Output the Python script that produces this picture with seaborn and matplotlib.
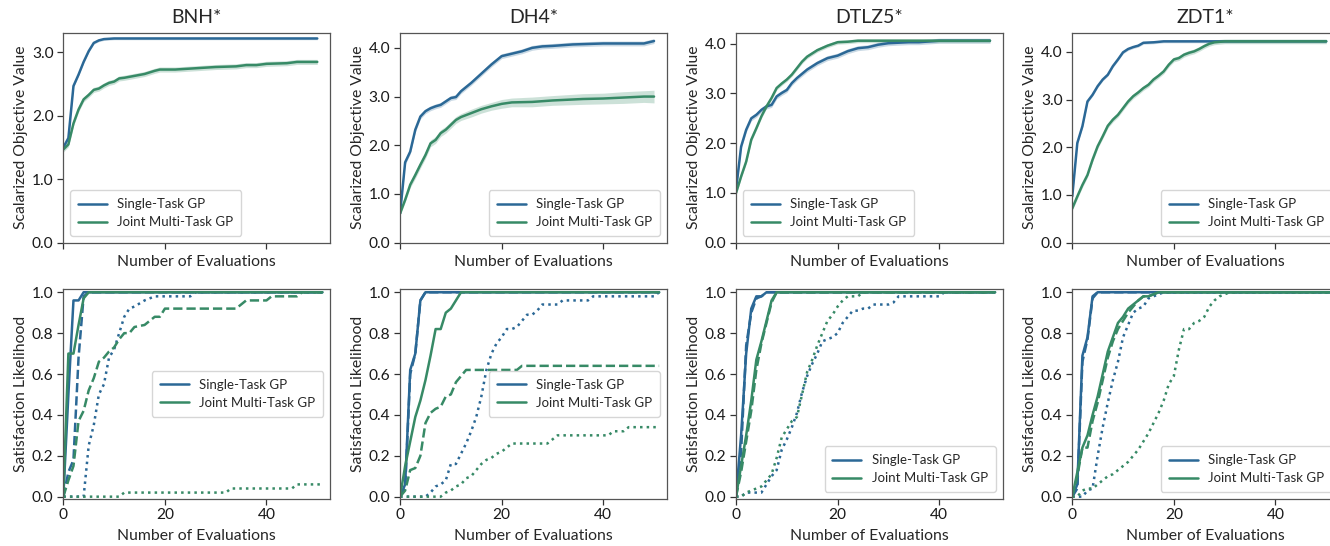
import numpy as np
import matplotlib
matplotlib.use("Agg")
import matplotlib.pyplot as plt
import seaborn as sns

# ---------------- data ----------------
titles = ["BNH*", "DH4*", "DTLZ5*", "ZDT1*"]
method_labels = ["Single-Task GP", "Joint Multi-Task GP"]
x_ticks = [0, 20, 40]

# Top row: scalarized objective value (mean) and band half-width
bnh_st_x = [0, 1, 2, 3, 4, 5, 6, 7, 8, 10, 50]
bnh_st_y = [1.50, 1.65, 2.47, 2.65, 2.85, 3.02, 3.15, 3.19, 3.21, 3.22, 3.22]
bnh_st_w = 0.02
bnh_mt_x = [0, 1, 2, 3, 4, 5, 6, 7, 8, 9, 10, 11, 12, 14, 16, 18, 19, 22, 26, 28, 30, 34, 36, 38, 40, 44, 46, 50]
bnh_mt_y = [1.47, 1.55, 1.88, 2.10, 2.26, 2.33, 2.41, 2.43, 2.48, 2.52, 2.54, 2.59, 2.60, 2.63, 2.66, 2.71, 2.73,
            2.73, 2.75, 2.76, 2.77, 2.78, 2.80, 2.80, 2.82, 2.83, 2.85, 2.85]
bnh_mt_w = 0.04

dh4_st_x = [0, 1, 2, 3, 4, 5, 6, 7, 8, 9, 10, 11, 12, 14, 16, 18, 20, 22, 24, 26, 28, 30, 34, 40, 48, 50]
dh4_st_y = [0.60, 1.65, 1.87, 2.32, 2.59, 2.70, 2.76, 2.80, 2.83, 2.90, 2.97, 2.99, 3.11, 3.28, 3.47, 3.66, 3.83,
            3.88, 3.93, 4.00, 4.03, 4.04, 4.07, 4.09, 4.09, 4.14]
dh4_st_w = 0.05
dh4_mt_x = [0, 1, 2, 3, 4, 5, 6, 7, 8, 9, 10, 11, 12, 14, 16, 18, 20, 22, 26, 30, 36, 40, 44, 48, 50]
dh4_mt_y = [0.60, 0.88, 1.19, 1.39, 1.60, 1.80, 2.04, 2.11, 2.25, 2.32, 2.42, 2.52, 2.58, 2.66, 2.74, 2.80, 2.85,
            2.88, 2.89, 2.92, 2.95, 2.96, 2.98, 3.00, 3.00]
dh4_mt_w = [0.04, 0.05, 0.06, 0.07, 0.07, 0.07, 0.07, 0.07, 0.07, 0.07, 0.07, 0.07, 0.07, 0.08, 0.08, 0.08, 0.09,
            0.09, 0.10, 0.10, 0.11, 0.11, 0.12, 0.12, 0.13]

dtlz5_st_x = [0, 1, 2, 3, 4, 5, 6, 7, 8, 9, 10, 11, 12, 14, 16, 18, 20, 22, 24, 26, 28, 30, 32, 34, 36, 40, 50]
dtlz5_st_y = [1.06, 1.93, 2.27, 2.50, 2.57, 2.67, 2.74, 2.77, 2.94, 3.01, 3.07, 3.21, 3.31, 3.48, 3.61, 3.71, 3.76,
              3.85, 3.91, 3.93, 3.98, 4.01, 4.02, 4.03, 4.03, 4.06, 4.06]
dtlz5_st_w = 0.05
dtlz5_mt_x = [0, 1, 2, 3, 4, 5, 6, 7, 8, 9, 10, 11, 12, 13, 14, 16, 18, 20, 22, 24, 50]
dtlz5_mt_y = [1.00, 1.33, 1.63, 2.07, 2.30, 2.54, 2.74, 2.91, 3.11, 3.20, 3.28, 3.38, 3.51, 3.64, 3.74, 3.87, 3.96,
              4.03, 4.04, 4.06, 4.06]
dtlz5_mt_w = 0.04

zdt1_st_x = [0, 1, 2, 3, 4, 5, 6, 7, 8, 9, 10, 11, 12, 13, 14, 16, 18, 50]
zdt1_st_y = [0.97, 2.09, 2.44, 2.96, 3.10, 3.28, 3.42, 3.52, 3.70, 3.84, 3.99, 4.06, 4.10, 4.13, 4.19, 4.20, 4.22, 4.22]
zdt1_st_w = 0.03
zdt1_mt_x = list(range(0, 29)) + [30, 50]
zdt1_mt_y = [0.72, 0.97, 1.21, 1.42, 1.74, 2.02, 2.23, 2.45, 2.58, 2.68, 2.82, 2.96, 3.07, 3.15, 3.24, 3.31, 3.42,
             3.50, 3.59, 3.73, 3.84, 3.87, 3.94, 3.98, 4.01, 4.06, 4.12, 4.17, 4.20, 4.22, 4.22]
zdt1_mt_w = 0.05

top_ylims = [3.31, 4.31, 4.22, 4.40]

# Bottom row: satisfaction likelihood, three constraint variants (solid, dashed, dotted)
bnh_st_solid_x = [0, 1, 2, 3, 4, 5, 51]
bnh_st_solid_y = [0, 0.50, 0.96, 0.96, 1.0, 1.0, 1.0]
bnh_st_dash_x = [0, 1, 2, 3, 4, 5, 51]
bnh_st_dash_y = [0, 0.12, 0.18, 0.68, 0.98, 1.0, 1.0]
bnh_st_dot_x = [0, 4, 5, 6, 7, 8, 9, 10, 11, 12, 13, 14, 16, 18, 25, 26, 51]
bnh_st_dot_y = [0, 0, 0.25, 0.35, 0.50, 0.55, 0.68, 0.72, 0.80, 0.88, 0.92, 0.93, 0.96, 0.98, 0.98, 1.0, 1.0]
bnh_mt_solid_x = [0, 1, 2, 3, 4, 5, 51]
bnh_mt_solid_y = [0, 0.70, 0.70, 0.84, 0.97, 1.0, 1.0]
bnh_mt_dash_x = [0, 1, 2, 3, 4, 5, 6, 7, 8, 9, 10, 11, 12, 13, 14, 16, 18, 19, 20, 34, 36, 40, 41, 46, 47, 51]
bnh_mt_dash_y = [0, 0.08, 0.15, 0.37, 0.42, 0.52, 0.58, 0.66, 0.68, 0.71, 0.73, 0.77, 0.80, 0.80, 0.83, 0.84, 0.88,
                 0.88, 0.92, 0.92, 0.96, 0.96, 0.98, 0.98, 1.0, 1.0]
bnh_mt_dot_x = [0, 11, 12, 32, 33, 45, 46, 51]
bnh_mt_dot_y = [0, 0, 0.02, 0.02, 0.04, 0.04, 0.06, 0.06]

dh4_st_solid_x = [0, 1, 2, 3, 4, 5, 51]
dh4_st_solid_y = [0, 0.06, 0.62, 0.70, 0.96, 1.0, 1.0]
dh4_st_dash_x = [0, 1, 2, 3, 4, 5, 51]
dh4_st_dash_y = [0, 0.04, 0.60, 0.70, 0.96, 1.0, 1.0]
dh4_st_dot_x = [0, 5, 6, 7, 8, 9, 10, 11, 12, 13, 14, 15, 16, 17, 18, 19, 20, 21, 22, 23, 24, 25, 26, 27, 28,
                30, 31, 32, 37, 38, 50, 51]
dh4_st_dot_y = [0, 0, 0.02, 0.05, 0.06, 0.08, 0.16, 0.16, 0.21, 0.26, 0.32, 0.39, 0.49, 0.62, 0.70, 0.75, 0.78,
                0.82, 0.82, 0.83, 0.86, 0.89, 0.89, 0.91, 0.94, 0.94, 0.94, 0.96, 0.96, 0.98, 0.98, 1.0]
dh4_mt_solid_x = [0, 1, 2, 3, 4, 5, 6, 7, 8, 9, 10, 11, 12, 51]
dh4_mt_solid_y = [0, 0.15, 0.27, 0.39, 0.47, 0.57, 0.69, 0.82, 0.82, 0.90, 0.92, 0.96, 1.0, 1.0]
dh4_mt_dash_x = [0, 1, 2, 3, 4, 5, 6, 7, 8, 9, 10, 11, 12, 13, 23, 24, 51]
dh4_mt_dash_y = [0, 0.03, 0.13, 0.14, 0.20, 0.36, 0.41, 0.43, 0.44, 0.49, 0.50, 0.56, 0.59, 0.62, 0.62, 0.64, 0.64]
dh4_mt_dot_x = [0, 8, 9, 10, 11, 12, 13, 14, 15, 16, 17, 18, 19, 20, 21, 22, 29, 30, 31, 41, 42, 44, 45, 51]
dh4_mt_dot_y = [0, 0, 0.02, 0.03, 0.05, 0.06, 0.09, 0.10, 0.13, 0.16, 0.18, 0.19, 0.21, 0.22, 0.24, 0.26, 0.26,
                0.28, 0.30, 0.30, 0.32, 0.32, 0.34, 0.34]

dtlz5_st_solid_x = [0, 1, 2, 3, 4, 5, 6, 51]
dtlz5_st_solid_y = [0, 0.30, 0.70, 0.92, 0.98, 0.98, 1.0, 1.0]
dtlz5_st_dash_x = [0, 1, 2, 3, 4, 5, 6, 51]
dtlz5_st_dash_y = [0, 0.22, 0.74, 0.90, 0.97, 0.98, 1.0, 1.0]
dtlz5_st_dot_x = [0, 1, 2, 5, 6, 7, 8, 9, 10, 11, 12, 13, 14, 15, 16, 17, 18, 19, 20, 21, 22, 23, 24, 25, 26, 27,
                  29, 30, 31, 32, 40, 41, 51]
dtlz5_st_dot_y = [0, 0, 0.02, 0.02, 0.06, 0.10, 0.13, 0.23, 0.28, 0.34, 0.41, 0.51, 0.59, 0.65, 0.70, 0.76, 0.77,
                  0.78, 0.80, 0.85, 0.88, 0.91, 0.91, 0.92, 0.92, 0.94, 0.94, 0.94, 0.95, 0.98, 0.98, 1.0, 1.0]
dtlz5_mt_solid_x = [0, 1, 2, 3, 4, 5, 6, 7, 8, 51]
dtlz5_mt_solid_y = [0, 0.15, 0.30, 0.47, 0.67, 0.76, 0.86, 0.96, 1.0, 1.0]
dtlz5_mt_dash_x = [0, 1, 2, 3, 4, 5, 6, 7, 8, 51]
dtlz5_mt_dash_y = [0, 0.12, 0.27, 0.42, 0.62, 0.75, 0.85, 0.95, 1.0, 1.0]
dtlz5_mt_dot_x = list(range(0, 26)) + [51]
dtlz5_mt_dot_y = [0, 0, 0.02, 0.03, 0.04, 0.05, 0.08, 0.11, 0.19, 0.29, 0.33, 0.37, 0.39, 0.50, 0.61, 0.67, 0.74,
                  0.80, 0.86, 0.89, 0.93, 0.96, 0.98, 0.98, 0.98, 1.0, 1.0]

zdt1_st_solid_x = [0, 1, 2, 3, 4, 5, 51]
zdt1_st_solid_y = [0, 0.06, 0.69, 0.78, 0.98, 1.0, 1.0]
zdt1_st_dash_x = [0, 1, 2, 3, 4, 5, 51]
zdt1_st_dash_y = [0, 0.04, 0.66, 0.77, 0.97, 1.0, 1.0]
zdt1_st_dot_x = [0, 2, 3, 4, 5, 6, 7, 8, 9, 10, 11, 12, 13, 14, 15, 16, 17, 18, 51]
zdt1_st_dot_y = [0, 0, 0.03, 0.04, 0.20, 0.34, 0.46, 0.57, 0.66, 0.78, 0.84, 0.90, 0.92, 0.93, 0.97, 0.98, 0.99,
                 1.0, 1.0]
zdt1_mt_solid_x = list(range(0, 18)) + [51]
zdt1_mt_solid_y = [0, 0.12, 0.24, 0.30, 0.40, 0.49, 0.60, 0.71, 0.78, 0.85, 0.88, 0.92, 0.94, 0.96, 0.98, 0.98,
                   0.99, 1.0, 1.0]
zdt1_mt_dash_x = list(range(0, 18)) + [51]
zdt1_mt_dash_y = [0, 0.10, 0.24, 0.24, 0.37, 0.46, 0.57, 0.68, 0.76, 0.82, 0.86, 0.90, 0.93, 0.96, 0.98, 0.98,
                  0.99, 1.0, 1.0]
zdt1_mt_dot_x = list(range(0, 32)) + [51]
zdt1_mt_dot_y = [0, 0, 0.03, 0.04, 0.04, 0.06, 0.08, 0.10, 0.11, 0.13, 0.15, 0.17, 0.20, 0.23, 0.27, 0.31, 0.36,
                 0.41, 0.47, 0.55, 0.59, 0.72, 0.82, 0.82, 0.85, 0.86, 0.88, 0.93, 0.96, 0.98, 0.99, 1.0, 1.0]

# ---------------- style ----------------
BLUE = "#2b6896"
GREEN = "#378a66"

sns.set_style("ticks")
plt.rcParams["font.family"] = ["Lato", "DejaVu Sans"]
plt.rcParams["axes.edgecolor"] = "#555555"
plt.rcParams["axes.linewidth"] = 0.9
plt.rcParams["xtick.color"] = "#333333"
plt.rcParams["ytick.color"] = "#333333"
plt.rcParams["xtick.labelcolor"] = "#1a1a1a"
plt.rcParams["ytick.labelcolor"] = "#1a1a1a"

TICK_FS = 11.2
LABEL_FS = 11.3
TITLE_FS = 14
LEG_FS = 9.5
LW = 1.8

fig = plt.figure(figsize=(13.3, 5.46), dpi=100)
lefts = [0.0476, 0.3008, 0.5534, 0.8062]
width = 0.2005
top_bottom, bot_bottom, height = 0.5555, 0.0866, 0.3845

top_data = [
    ((bnh_st_x, bnh_st_y, bnh_st_w), (bnh_mt_x, bnh_mt_y, bnh_mt_w)),
    ((dh4_st_x, dh4_st_y, dh4_st_w), (dh4_mt_x, dh4_mt_y, dh4_mt_w)),
    ((dtlz5_st_x, dtlz5_st_y, dtlz5_st_w), (dtlz5_mt_x, dtlz5_mt_y, dtlz5_mt_w)),
    ((zdt1_st_x, zdt1_st_y, zdt1_st_w), (zdt1_mt_x, zdt1_mt_y, zdt1_mt_w)),
]
top_leg_loc = ["lower left", "lower right", "lower left", "lower right"]

bot_data = [
    [((bnh_st_solid_x, bnh_st_solid_y), (bnh_st_dash_x, bnh_st_dash_y), (bnh_st_dot_x, bnh_st_dot_y)),
     ((bnh_mt_solid_x, bnh_mt_solid_y), (bnh_mt_dash_x, bnh_mt_dash_y), (bnh_mt_dot_x, bnh_mt_dot_y))],
    [((dh4_st_solid_x, dh4_st_solid_y), (dh4_st_dash_x, dh4_st_dash_y), (dh4_st_dot_x, dh4_st_dot_y)),
     ((dh4_mt_solid_x, dh4_mt_solid_y), (dh4_mt_dash_x, dh4_mt_dash_y), (dh4_mt_dot_x, dh4_mt_dot_y))],
    [((dtlz5_st_solid_x, dtlz5_st_solid_y), (dtlz5_st_dash_x, dtlz5_st_dash_y), (dtlz5_st_dot_x, dtlz5_st_dot_y)),
     ((dtlz5_mt_solid_x, dtlz5_mt_solid_y), (dtlz5_mt_dash_x, dtlz5_mt_dash_y), (dtlz5_mt_dot_x, dtlz5_mt_dot_y))],
    [((zdt1_st_solid_x, zdt1_st_solid_y), (zdt1_st_dash_x, zdt1_st_dash_y), (zdt1_st_dot_x, zdt1_st_dot_y)),
     ((zdt1_mt_solid_x, zdt1_mt_solid_y), (zdt1_mt_dash_x, zdt1_mt_dash_y), (zdt1_mt_dot_x, zdt1_mt_dot_y))],
]
bot_leg_loc = ["center right", "center right", "lower right", "lower right"]

colors = [BLUE, GREEN]
styles = ["-", "--", ":"]


def style_axes(ax):
    for s in ax.spines.values():
        s.set_visible(True)
    ax.tick_params(axis="both", labelsize=TICK_FS, length=4, width=0.9, direction="out", pad=3)
    ax.set_xlim(0, 52.5)
    ax.set_xticks(x_ticks)


for i in range(4):
    # ---- top ----
    ax = fig.add_axes([lefts[i], top_bottom, width, height])
    for (xs, ys, w), c, lab in zip(top_data[i], colors, method_labels):
        xs = np.asarray(xs, float)
        ys = np.asarray(ys, float)
        w = np.asarray(w, float)
        ax.fill_between(xs, ys - w, ys + w, color=c, alpha=0.25, lw=0)
        sns.lineplot(x=xs, y=ys, ax=ax, color=c, lw=LW, label=lab)
    style_axes(ax)
    ax.set_ylim(0, top_ylims[i])
    ax.set_yticks(np.arange(0, top_ylims[i], 1.0))
    ax.yaxis.set_major_formatter(matplotlib.ticker.FormatStrFormatter("%.1f"))
    ax.set_xticklabels([])
    ax.set_xlabel("Number of Evaluations", fontsize=LABEL_FS, labelpad=2)
    ax.set_ylabel("Scalarized Objective Value", fontsize=LABEL_FS, labelpad=3)
    ax.set_title(titles[i], fontsize=TITLE_FS, pad=7)
    ax.legend(loc=top_leg_loc[i], fontsize=LEG_FS, borderpad=0.6, labelspacing=0.45, handlelength=2.2)

    # ---- bottom ----
    ax = fig.add_axes([lefts[i], bot_bottom, width, height])
    for series, c, lab in zip(bot_data[i], colors, method_labels):
        for (xs, ys), ls in zip(series, styles):
            sns.lineplot(x=xs, y=ys, ax=ax, color=c, lw=LW, linestyle=ls,
                         label=lab if ls == "-" else "_nolegend_")
    style_axes(ax)
    ax.set_ylim(-0.01, 1.017)
    ax.set_yticks([0, 0.2, 0.4, 0.6, 0.8, 1.0])
    ax.yaxis.set_major_formatter(matplotlib.ticker.FormatStrFormatter("%.1f"))
    ax.set_xlabel("Number of Evaluations", fontsize=LABEL_FS, labelpad=5)
    ax.set_ylabel("Satisfaction Likelihood", fontsize=LABEL_FS, labelpad=3)
    ax.legend(loc=bot_leg_loc[i], fontsize=LEG_FS, borderpad=0.6, labelspacing=0.45, handlelength=2.2)

fig.savefig("out.png", dpi=100)
